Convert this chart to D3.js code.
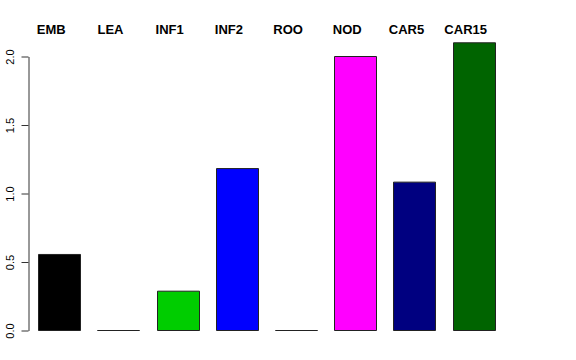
<!DOCTYPE html>
<html>
<head>
<meta charset="utf-8">
<script src="https://cdn.jsdelivr.net/npm/d3@7"></script>
<style>
  body { margin: 0; background: #fff; }
  svg { display: block; font-family: "Liberation Sans", Arial, sans-serif; }
</style>
</head>
<body>
<div id="chart"></div>
<script>
// tissue categories and bar heights
const tissues = ["EMB", "LEA", "INF1", "INF2", "ROO", "NOD", "CAR5", "CAR15"];
const values = [0.555, 0, 0.287, 1.182, 0, 2.0, 1.083, 2.10];
const barColors = ["#000000", "#FF0000", "#00CD00", "#0000FF", "#00FFFF", "#FF00FF", "#000080", "#006400"];
const yTicks = [0, 0.5, 1.0, 1.5, 2.0];

const width = 576, height = 360;

let svg = d3.select("#chart").append("svg")
    .attr("width", width)
    .attr("height", height);

// scales
let x = d3.scaleBand().domain(tissues).range([38.3, 494.7]).paddingInner(0.29).paddingOuter(0);
let y = d3.scaleLinear().domain([0, 2]).range([330.5, 56.5]);

// bars as closed paths so zero-height bars still show their border line
svg.selectAll(".bar")
    .data(values)
    .enter().append("path")
    .attr("class", "bar")
    .attr("d", function(d, i) {
        let x0 = Math.round(x(tissues[i])) + 0.5;
        let w = Math.round(x.bandwidth());
        return "M" + x0 + "," + y(0) + "V" + y(d) + "H" + (x0 + w) + "V" + y(0) + "Z";
    })
    .attr("fill", (d, i) => barColors[i])
    .attr("stroke", "#222")
    .attr("stroke-width", 1);

// category labels on top
svg.selectAll(".lab")
    .data(tissues)
    .enter().append("text")
    .attr("class", "lab")
    .attr("x", d => x(d) + x.bandwidth() / 2 - 8)
    .attr("y", 34.3)
    .attr("text-anchor", "middle")
    .attr("font-weight", "bold")
    .attr("font-size", 13)
    .attr("fill", "#000")
    .text(d => d);

// y axis
let yAxis = svg.append("g")
    .attr("transform", "translate(28.5,0)")
    .call(d3.axisLeft(y).tickValues(yTicks).tickFormat(d3.format(".1f")).tickSize(7).tickSizeOuter(0));

yAxis.select(".domain").attr("stroke", "#333");
yAxis.selectAll(".tick line").attr("stroke", "#333");
yAxis.selectAll(".tick text")
    .attr("x", 0)
    .attr("dy", 0)
    .attr("text-anchor", "middle")
    .attr("transform", "translate(-15,0) rotate(-90)")
    .attr("font-size", 11)
    .attr("font-family", "Liberation Sans, Arial, sans-serif")
    .attr("fill", "#000");
</script>
</body>
</html>
